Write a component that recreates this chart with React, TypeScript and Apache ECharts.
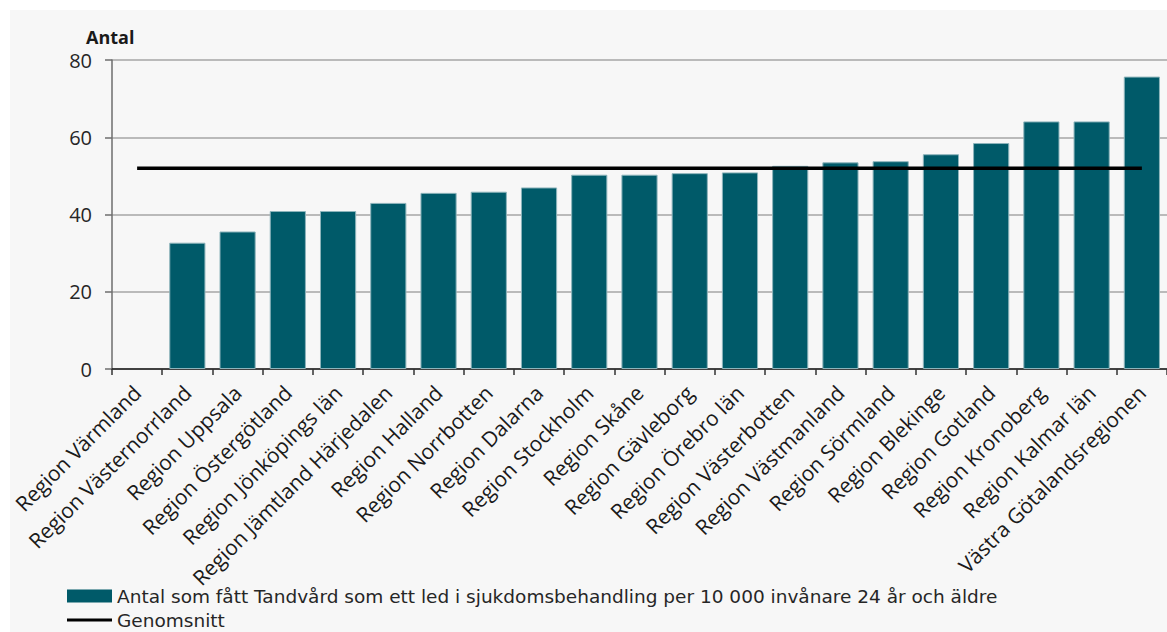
import React, { useEffect, useRef } from "react";
import * as echarts from "echarts";

const categories: string[] = [
  "Region Värmland",
  "Region Västernorrland",
  "Region Uppsala",
  "Region Östergötland",
  "Region Jönköpings län",
  "Region Jämtland Härjedalen",
  "Region Halland",
  "Region Norrbotten",
  "Region Dalarna",
  "Region Stockholm",
  "Region Skåne",
  "Region Gävleborg",
  "Region Örebro län",
  "Region Västerbotten",
  "Region Västmanland",
  "Region Sörmland",
  "Region Blekinge",
  "Region Gotland",
  "Region Kronoberg",
  "Region Kalmar län",
  "Västra Götalandsregionen",
];

const antalValues: (number | null)[] = [
  null, 32.7, 35.6, 40.9, 40.9, 43.0, 45.6, 45.9, 47.0, 50.3, 50.3,
  50.7, 50.9, 52.6, 53.5, 53.8, 55.6, 58.5, 64.1, 64.1, 75.7,
];

const genomsnittValues: number[] = [
  52, 52, 52, 52, 52, 52, 52, 52, 52, 52, 52,
  52, 52, 52, 52, 52, 52, 52, 52, 52, 52,
];

const yTicks = { min: 0, max: 80, interval: 20 };

const barName =
  "Antal som fått Tandvård som ett led i sjukdomsbehandling per 10 000 invånare 24 år och äldre";
const lineName = "Genomsnitt";
const yTitle = "Antal";

const FONT = "'Open Sans', 'Noto Sans', sans-serif";
const LEGEND_FONT = "'DejaVu Sans', 'Open Sans', sans-serif";

export default function App() {
  const ref = useRef<HTMLDivElement>(null);

  useEffect(() => {
    if (!ref.current) return;
    const chart = echarts.init(ref.current, undefined, { renderer: "svg" });
    const legendText = {
      fontFamily: LEGEND_FONT,
      fontSize: 18.5,
      color: "#262626",
      lineHeight: 20,
    };
    chart.setOption({
      animation: false,
      textStyle: { fontFamily: FONT },
      grid: { left: 112, top: 60, width: 1058, height: 309, containLabel: false },
      graphic: [
        {
          type: "text",
          left: 86,
          top: 28,
          style: {
            text: yTitle,
            font: `bold 18px ${FONT}`,
            fill: "#1a1a1a",
          },
        },
      ],
      legend: [
        {
          left: 67,
          top: 586,
          padding: 0,
          itemWidth: 45,
          itemHeight: 13,
          textStyle: legendText,
          data: [{ name: barName, icon: "rect", itemStyle: { borderWidth: 0 } }],
        },
        {
          left: 67,
          top: 610,
          padding: 0,
          itemWidth: 45,
          itemHeight: 3,
          textStyle: legendText,
          data: [
            {
              name: lineName,
              icon: "rect",
              itemStyle: { color: "#000", borderWidth: 0 },
            },
          ],
        },
      ],
      xAxis: {
        type: "category",
        data: categories,
        boundaryGap: true,
        axisLine: { show: true, lineStyle: { color: "#1a1a1a", width: 1.5 } },
        axisTick: { show: true, length: 6, lineStyle: { color: "#333", width: 1.5 } },
        axisLabel: {
          interval: 0,
          rotate: 45,
          margin: 20,
          fontFamily: FONT,
          fontSize: 21,
          color: "#1a1a1a",
        },
        splitLine: { show: false },
      },
      yAxis: {
        type: "value",
        min: yTicks.min,
        max: yTicks.max,
        interval: yTicks.interval,
        axisLine: { show: true, lineStyle: { color: "#6e6e6e", width: 1.5 } },
        axisTick: { show: true, length: 7, lineStyle: { color: "#6e6e6e", width: 1.5 } },
        axisLabel: {
          margin: 20,
          fontFamily: FONT,
          fontSize: 20,
          color: "#262626",
        },
        splitLine: { show: true, lineStyle: { color: "#a6a6a6", width: 1.5 } },
      },
      series: [
        {
          name: barName,
          type: "bar",
          data: antalValues,
          barCategoryGap: "28%",
          itemStyle: {
            color: "#005a69",
            borderColor: "#8db4bb",
            borderWidth: 1,
          },
        },
        {
          name: lineName,
          type: "line",
          data: genomsnittValues,
          symbol: "none",
          lineStyle: { color: "#000", width: 3.5 },
          itemStyle: { color: "#000" },
          z: 3,
        },
      ],
    });
    return () => chart.dispose();
  }, []);

  return (
    <div
      style={{
        position: "fixed",
        left: 0,
        top: 0,
        width: 1167,
        height: 632,
        background: "#ffffff",
        overflow: "hidden",
      }}
    >
      <div
        style={{
          position: "absolute",
          left: 10,
          top: 10,
          right: 0,
          bottom: 0,
          background: "#f7f7f7",
        }}
      />
      <div
        ref={ref}
        style={{ position: "absolute", left: 0, top: 0, width: 1167, height: 632 }}
      />
    </div>
  );
}
